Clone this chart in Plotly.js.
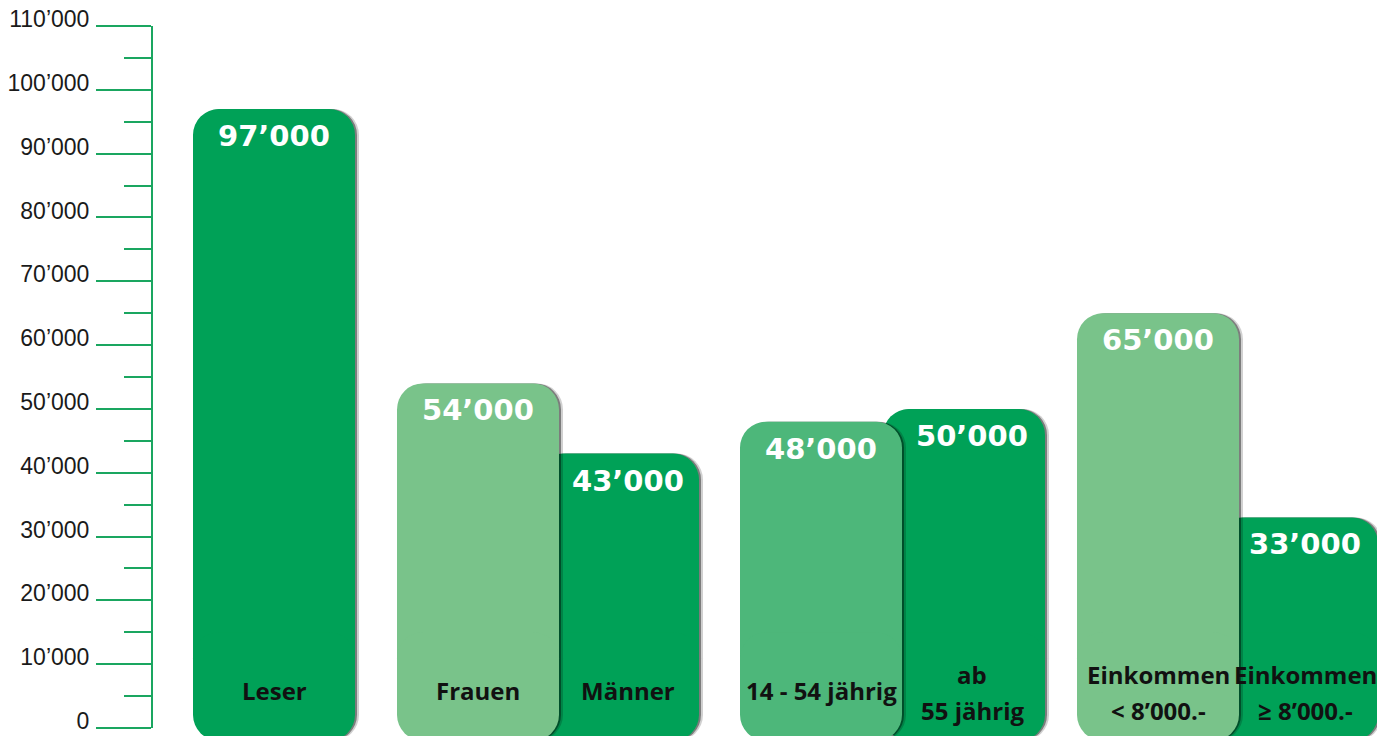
<!DOCTYPE html>
<html>
<head>
<meta charset="utf-8">
<script src="https://cdn.plot.ly/plotly-3.0.1.min.js"></script>
<style>
  html, body { margin: 0; padding: 0; background: #fff; }
  #chart { width: 1377px; height: 736px; }
</style>
</head>
<body>
<div id="chart"></div>
<script>
// ---- data ----
const categories = ['Leser', 'Frauen', 'Männer', '14 - 54 jährig', 'ab\n55 jährig', 'Einkommen\n< 8’000.-', 'Einkommen\n≥ 8’000.-'];
const values = [97000, 54000, 43000, 48000, 50000, 65000, 33000];
const valueLabels = ['97’000', '54’000', '43’000', '48’000', '50’000', '65’000', '33’000'];
const tickVals = [0, 10000, 20000, 30000, 40000, 50000, 60000, 70000, 80000, 90000, 100000, 110000];
const tickText = ['0', '10’000', '20’000', '30’000', '40’000', '50’000', '60’000', '70’000', '80’000', '90’000', '100’000', '110’000'];

// ---- layout / style constants ----
const pxPerUnit = 162;
const plotWidthPx = 1377 - 152;
const barPos = [0.75, 2.01, 2.877, 4.13, 5.012, 6.207, 7.068].map(p => Math.round(p * pxPerUnit) / pxPerUnit);
const barColors = ['#00a157', '#79c38a', '#00a157', '#4db77a', '#00a157', '#79c38a', '#00a157'];
const backIdx = [0, 2, 4, 6];
const frontIdx = [1, 3, 5];
const labelShift = [0, 0, 10, 0, 8, 0, 8];
const capTop = 15000, capEnd = -2000;
const pxUnit = 1 / pxPerUnit;
const green = '#1aa660';

function makeTrace(idx, dx, color, opacity) {
  const xs = idx.map(i => barPos[i] + dx);
  const cols = color ? idx.map(() => color) : idx.map(i => barColors[i]);
  return {
    type: 'bar',
    x: xs.concat(xs),
    y: idx.map(i => values[i]).concat(idx.map(() => capEnd - capTop)),
    base: idx.map(() => 0).concat(idx.map(() => capTop)),
    width: 1.0,
    opacity: opacity,
    marker: { color: cols.concat(cols), cornerradius: 26, line: { width: 0 } },
    hoverinfo: 'skip',
    showlegend: false
  };
}

const traces = [
  makeTrace(backIdx, 4 * pxUnit, '#000000', 0.18),
  makeTrace(backIdx, 2 * pxUnit, '#000000', 0.4),
  makeTrace(backIdx, 0, null, 1),
  makeTrace(frontIdx, 4 * pxUnit, '#000000', 0.18),
  makeTrace(frontIdx, 2 * pxUnit, '#000000', 0.4),
  makeTrace(frontIdx, 0, null, 1)
];

const annotations = [];
values.forEach((v, i) => {
  annotations.push({
    x: barPos[i], y: v, xref: 'x', yref: 'y',
    text: valueLabels[i], showarrow: false,
    xanchor: 'center', yanchor: 'middle', yshift: -27, xshift: labelShift[i],
    font: { family: 'DejaVu Sans', size: 29, color: '#ffffff', weight: 700 }
  });
  const lines = categories[i].split('\n');
  lines.forEach((ln, k) => {
    const n = lines.length;
    const shift = n === 1 ? 38 : 18 + (n - 1 - k) * 36;
    annotations.push({
      x: barPos[i], y: 0, xref: 'x', yref: 'y',
      text: ln.replace(/</g, '&lt;'), showarrow: false,
      xanchor: 'center', yanchor: 'middle', yshift: shift, xshift: labelShift[i],
      font: { family: 'Open Sans', size: 24, color: '#111111', weight: 700 }
    });
  });
});

const layout = {
  width: 1377, height: 736,
  margin: { l: 152, r: 0, t: 0, b: 0, pad: 0 },
  paper_bgcolor: '#ffffff', plot_bgcolor: '#ffffff',
  barmode: 'overlay',
  showlegend: false,
  xaxis: { range: [0, plotWidthPx / pxPerUnit], visible: false, fixedrange: true },
  yaxis: {
    range: [-1254, 114074],
    tickmode: 'array', tickvals: tickVals, ticktext: tickText,
    ticks: 'outside', ticklen: 55, tickwidth: 2, tickcolor: green,
    minor: { tickmode: 'linear', tick0: 0, dtick: 5000, ticks: 'outside', ticklen: 27, tickwidth: 2, tickcolor: green },
    showline: false, showgrid: false, zeroline: false,
    ticklabelshift: -7, ticklabelstandoff: 2,
    tickfont: { family: 'Liberation Sans', size: 23, color: '#1a1a1a' },
    fixedrange: true
  },
  shapes: [{
    type: 'line', xref: 'paper', yref: 'y', x0: 0, x1: 0, y0: 0, y1: 110000,
    line: { color: green, width: 2 }
  }],
  annotations: annotations
};

Plotly.newPlot('chart', traces, layout, { displayModeBar: false, staticPlot: true });
</script>
</body>
</html>
